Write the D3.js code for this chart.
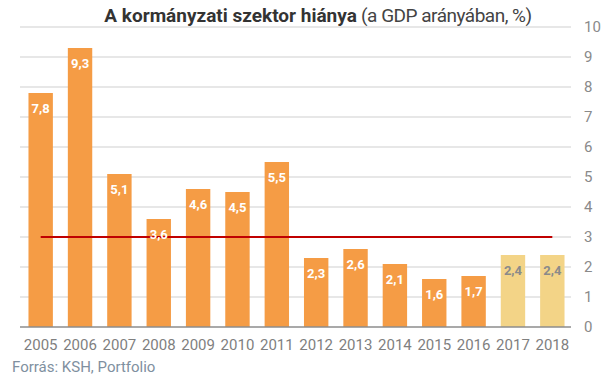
<!DOCTYPE html>
<html><head><meta charset="utf-8">
<script src="https://cdn.jsdelivr.net/npm/d3@7"></script>
<style>body{margin:0;background:#fff}svg{display:block;font-family:Roboto,"Noto Sans",sans-serif}</style>
</head><body>
<svg id="c" width="605" height="378"></svg>
<script>
const years = ["2005","2006","2007","2008","2009","2010","2011","2012","2013","2014","2015","2016","2017","2018"];
const deficit = [7.8, 9.3, 5.1, 3.6, 4.6, 4.5, 5.5, 2.3, 2.6, 2.1, 1.6, 1.7, 2.4, 2.4];
const forecast = [false,false,false,false,false,false,false,false,false,false,false,false,true,true];
const yTicks = [0,1,2,3,4,5,6,7,8,9,10];
const limit = 3;

const svg = d3.select("#c");
const x = d3.scaleBand().domain(years).range([21, 572]).paddingInner(0.38).paddingOuter(0.19);
const y = d3.scaleLinear().domain([0, 10]).range([327, 27]);

// gridlines
svg.append("g").selectAll("line").data(yTicks.filter(d => d > 0)).join("line")
  .attr("x1", 20).attr("x2", 571).attr("y1", d => y(d)).attr("y2", d => y(d))
  .attr("stroke", "#cfcfcf").attr("stroke-width", 1.2);

// right axis labels
const ya = svg.append("g").attr("transform", "translate(571,0)")
  .call(d3.axisRight(y).tickValues(yTicks).tickSize(0).tickPadding(13).tickFormat(d3.format("d")));
ya.select(".domain").remove();
ya.selectAll("text").attr("fill", "#8a8a8a").style("font-size", "15px").style("font-family", "Roboto");

// bars
svg.append("g").selectAll("rect").data(years).join("rect")
  .attr("x", d => x(d)).attr("width", x.bandwidth())
  .attr("y", (d, i) => y(deficit[i])).attr("height", (d, i) => y(0) - y(deficit[i]))
  .attr("fill", (d, i) => forecast[i] ? "#f3d487" : "#f59c45");

// baseline
svg.append("line").attr("x1", 20).attr("x2", 571).attr("y1", y(0)).attr("y2", y(0))
  .attr("stroke", "#8c8c8c").attr("stroke-width", 1.5);

// 3% line
svg.append("line")
  .attr("x1", x(years[0]) + x.bandwidth() / 2).attr("x2", x(years[years.length - 1]) + x.bandwidth() / 2)
  .attr("y1", y(limit)).attr("y2", y(limit))
  .attr("stroke", "#c00000").attr("stroke-width", 2);

// value labels
svg.append("g").selectAll("text").data(years).join("text")
  .attr("x", d => x(d) + x.bandwidth() / 2)
  .attr("y", (d, i) => y(deficit[i]) + 20)
  .attr("text-anchor", "middle")
  .attr("fill", (d, i) => forecast[i] ? "#8a8a8a" : "#fff")
  .style("font-size", "13px").style("font-weight", "bold")
  .text((d, i) => String(deficit[i]).replace(".", ","));

// x axis labels
const xa = svg.append("g").attr("transform", `translate(0,${y(0)})`)
  .call(d3.axisBottom(x).tickSize(0).tickPadding(12));
xa.select(".domain").remove();
xa.selectAll("text").attr("fill", "#7f7f7f").style("font-size", "15px").style("font-family", "Roboto");

// title
const t = svg.append("text").attr("x", 318).attr("y", 22).attr("text-anchor", "middle")
  .style("font-size", "19px").attr("fill", "#333");
t.append("tspan").style("font-weight", "bold").attr("letter-spacing", "0").text("A kormányzati szektor hiánya");
t.append("tspan").attr("fill", "#444").attr("letter-spacing", "-0.5").text(" (a GDP arányában, %)");

// source
svg.append("text").attr("x", 12).attr("y", 372).attr("fill", "#8090a0")
  .style("font-size", "15px").text("Forrás: KSH, Portfolio");
</script>
</body></html>
